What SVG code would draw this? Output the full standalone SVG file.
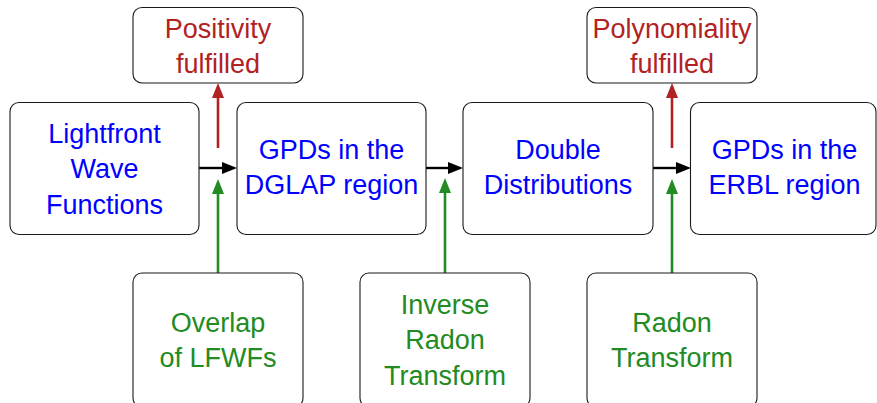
<svg xmlns="http://www.w3.org/2000/svg" width="877" height="403" viewBox="0 0 877 403">
<style>
  .box { fill: #ffffff; stroke: #1a1a1a; stroke-width: 1.1; }
  text { font-family: "Liberation Sans", Arial, sans-serif; font-size: 27px; text-anchor: middle; }
  .blue { fill: #0000ff; }
  .red { fill: #b22222; }
  .green { fill: #228b22; }
  .ablack { stroke: #000000; stroke-width: 2.4; fill: none; }
  .ared { stroke: #b22222; stroke-width: 2.6; fill: none; }
  .agreen { stroke: #228b22; stroke-width: 2.6; fill: none; }
</style>
<defs>
  <marker id="hk" viewBox="0 0 15 12" refX="4" refY="6" markerWidth="15" markerHeight="12" markerUnits="userSpaceOnUse" orient="auto">
    <path d="M0,0 L15,6 L0,12 z" fill="#000000"/>
  </marker>
  <marker id="hr" viewBox="0 0 15 12" refX="4" refY="6" markerWidth="15" markerHeight="12" markerUnits="userSpaceOnUse" orient="auto">
    <path d="M0,0 L15,6 L0,12 z" fill="#b22222"/>
  </marker>
  <marker id="hg" viewBox="0 0 15 12" refX="4" refY="6" markerWidth="15" markerHeight="12" markerUnits="userSpaceOnUse" orient="auto">
    <path d="M0,0 L15,6 L0,12 z" fill="#228b22"/>
  </marker>
</defs>

<g id="connectors">
  <line class="ablack" x1="199" y1="168" x2="226" y2="168" marker-end="url(#hk)"/>
  <line class="ablack" x1="426" y1="168" x2="452" y2="168" marker-end="url(#hk)"/>
  <line class="ablack" x1="653" y1="168" x2="680" y2="168" marker-end="url(#hk)"/>
  <line class="ared" x1="218" y1="148" x2="218" y2="94" marker-end="url(#hr)"/>
  <line class="ared" x1="672" y1="148" x2="672" y2="94" marker-end="url(#hr)"/>
  <line class="agreen" x1="218" y1="273" x2="218" y2="190" marker-end="url(#hg)"/>
  <line class="agreen" x1="445" y1="273" x2="445" y2="189" marker-end="url(#hg)"/>
  <line class="agreen" x1="672" y1="273" x2="672" y2="190" marker-end="url(#hg)"/>
</g>

<g id="lfwf">
  <rect class="box" x="10" y="102.5" width="189" height="132" rx="9"/>
  <text class="blue" x="104.5" y="142.5">Lightfront</text>
  <text class="blue" x="104.5" y="178">Wave</text>
  <text class="blue" x="104.5" y="213.5">Functions</text>
</g>
<g id="dglap">
  <rect class="box" x="237" y="102.5" width="189" height="132" rx="9"/>
  <text class="blue" x="331.5" y="158.5">GPDs in the</text>
  <text class="blue" x="331.5" y="194">DGLAP region</text>
</g>
<g id="dd">
  <rect class="box" x="463" y="102.5" width="190" height="132" rx="9"/>
  <text class="blue" x="558" y="158.5">Double</text>
  <text class="blue" x="558" y="194">Distributions</text>
</g>
<g id="erbl">
  <rect class="box" x="690.5" y="102.5" width="185.5" height="132" rx="9"/>
  <text class="blue" x="784.5" y="158.5">GPDs in the</text>
  <text class="blue" x="784.5" y="194">ERBL region</text>
</g>

<g id="positivity">
  <rect class="box" x="133" y="7.5" width="170" height="75.5" rx="9"/>
  <text class="red" x="218" y="37.5">Positivity</text>
  <text class="red" x="218" y="73">fulfilled</text>
</g>
<g id="polynomiality">
  <rect class="box" x="587" y="7.5" width="170" height="75.5" rx="9"/>
  <text class="red" x="672" y="37.5">Polynomiality</text>
  <text class="red" x="672" y="73">fulfilled</text>
</g>

<g id="overlap">
  <rect class="box" x="133" y="273" width="170" height="134" rx="9"/>
  <text class="green" x="218" y="331.5">Overlap</text>
  <text class="green" x="218" y="367">of LFWFs</text>
</g>
<g id="inverse-radon">
  <rect class="box" x="360" y="273" width="170" height="134" rx="9"/>
  <text class="green" x="445" y="313.5">Inverse</text>
  <text class="green" x="445" y="349">Radon</text>
  <text class="green" x="445" y="384.5">Transform</text>
</g>
<g id="radon">
  <rect class="box" x="587" y="273" width="170" height="134" rx="9"/>
  <text class="green" x="672" y="331.5">Radon</text>
  <text class="green" x="672" y="367">Transform</text>
</g>
</svg>
